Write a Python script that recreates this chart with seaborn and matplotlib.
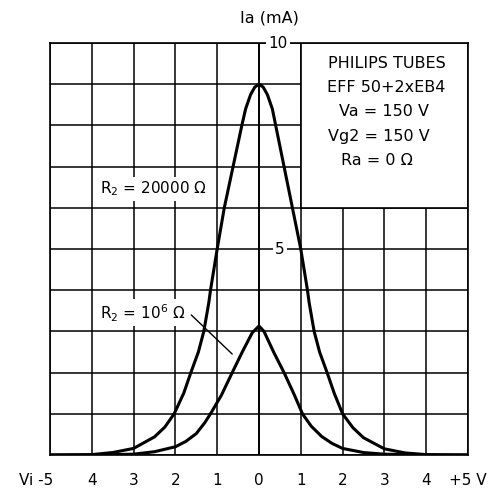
import numpy as np
import pandas as pd
import matplotlib
matplotlib.use("Agg")
import matplotlib.pyplot as plt
import seaborn as sns
from matplotlib.patches import Rectangle

# curve data (Vi in V, Ia in mA)
vi_20k = [-5, -4, -3.5, -3, -2.5, -2.25, -2.03, -1.8, -1.63, -1.45, -1.32, -1.2, -1.16, -1.0,
          -0.83, -0.62, -0.41, -0.32, -0.2, -0.1, 0,
          0.1, 0.2, 0.32, 0.40, 0.60, 0.80, 1.0, 1.16, 1.2, 1.32, 1.45, 1.63, 1.8, 2.0,
          2.25, 2.5, 3, 3.5, 4, 5]
ia_20k = [0, 0.01, 0.06, 0.16, 0.44, 0.68, 1.0, 1.5, 2.0, 2.5, 3.0, 3.7, 4.0, 5.0,
          6.0, 7.0, 8.0, 8.4, 8.75, 8.93, 9.0,
          8.93, 8.75, 8.4, 8.0, 7.0, 6.0, 5.0, 4.0, 3.7, 3.0, 2.5, 2.0, 1.5, 1.0,
          0.66, 0.42, 0.15, 0.05, 0.01, 0]

vi_1m = [-5, -4, -3, -2.5, -2, -1.75, -1.5, -1.3, -1.16, -0.9, -0.64, -0.4, -0.16, 0,
         0.12, 0.35, 0.6, 0.85, 1.04, 1.25, 1.5, 1.75, 2, 2.5, 3, 4, 5]
ia_1m = [0, 0, 0.02, 0.08, 0.2, 0.33, 0.52, 0.78, 1.0, 1.45, 2.0, 2.5, 2.97, 3.13,
         3.0, 2.5, 2.0, 1.45, 1.0, 0.7, 0.45, 0.28, 0.16, 0.06, 0.02, 0, 0]

x_ticks = [-5, -4, -3, -2, -1, 0, 1, 2, 3, 4, 5]
x_labels = ["", "4", "3", "2", "1", "0", "1", "2", "3", "4", ""]

info_lines = ["PHILIPS TUBES", "EFF 50+2xEB4", "Va = 150 V", "Vg2 = 150 V", "Ra = 0 \u03a9"]

sns.set_style("white")
plt.rcParams['font.family'] = ['DejaVu Sans']
plt.rcParams['text.color'] = 'black'
plt.rcParams['xtick.color'] = 'black'

fig = plt.figure(figsize=(4.91, 4.91), dpi=100)
ax = fig.add_axes([0.1018, 0.0733, 0.8513, 0.8391])

df_a = pd.DataFrame({"Vi": vi_20k, "Ia": ia_20k})
df_b = pd.DataFrame({"Vi": vi_1m, "Ia": ia_1m})
sns.lineplot(data=df_a, x="Vi", y="Ia", ax=ax, color="black", lw=2.2, sort=False, zorder=3)
sns.lineplot(data=df_b, x="Vi", y="Ia", ax=ax, color="black", lw=2.2, sort=False, zorder=3)

ax.set_xlim(-5, 5)
ax.set_ylim(0, 10)
ax.set_xticks(x_ticks)
ax.set_xticklabels(x_labels, fontsize=11, color="black")
ax.set_yticks(range(0, 11))
ax.set_yticklabels([])
ax.tick_params(axis="x", direction="out", length=7, width=1.2, pad=6, colors="black")
ax.tick_params(axis="y", length=0)
ax.set_axisbelow(True)
ax.grid(True, color="black", lw=1.1)
ax.axvline(0, color="black", lw=1.3, zorder=1)
for s in ax.spines.values():
    s.set_color("black")
    s.set_linewidth(1.2)
ax.set_xlabel("")
ax.set_ylabel("")

# info box in upper right covers the grid
ax.add_patch(Rectangle((1, 6), 4, 4, facecolor="white", edgecolor="black", lw=1.2, zorder=1.5))
info_x = [3.05, 3.04, 2.99, 2.87, 2.82]
info_y = [9.51, 8.91, 8.33, 7.72, 7.16]
for t, xx, yy in zip(info_lines, info_x, info_y):
    ax.text(xx, yy, t, ha="center", va="center", fontsize=11.5, color="black", zorder=4)

# value labels on the Ia axis
box = dict(facecolor="white", edgecolor="none", pad=1.5)
ax.text(0.45, 10, "10", ha="center", va="center", fontsize=11, bbox=box, zorder=4, clip_on=False)
ax.text(0.5, 5, "5", ha="center", va="center", fontsize=11, bbox=box, zorder=4)
ax.text(0.24, 10.6, "Ia (mA)", ha="center", va="center", fontsize=11.5, clip_on=False)

# x end labels
ax.text(-4.93, -0.62, "Vi -5", ha="right", va="center", fontsize=11, clip_on=False)
ax.text(4.55, -0.62, "+5 V", ha="left", va="center", fontsize=11, clip_on=False)

# curve labels
ax.text(-3.8, 6.46, r"R$_2$ = 20000 $\Omega$", ha="left", va="center", fontsize=11,
        bbox=dict(facecolor="white", edgecolor="none", pad=2), zorder=4)
ax.text(-3.8, 3.45, r"R$_2$ = 10$^6$ $\Omega$", ha="left", va="center", fontsize=11,
        bbox=dict(facecolor="white", edgecolor="none", pad=2), zorder=4)
ax.plot([-1.62, -0.64], [3.40, 2.45], color="black", lw=1.0, zorder=3)

fig.savefig("out.png", dpi=100, facecolor="white")
